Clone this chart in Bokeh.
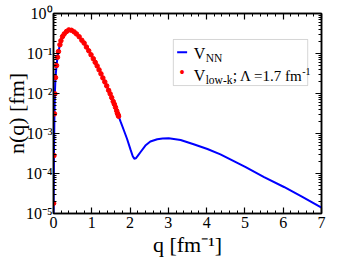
from bokeh.plotting import figure
from bokeh.models import (Range1d, LinearAxis, LogAxis, Label, BoxAnnotation, Arrow,
                          SingleIntervalTicker, LogTicker, CustomJSTickFormatter)
from bokeh.embed import file_html
from bokeh.resources import INLINE

# ---- data ----
q_vnn = [0.001, 0.003, 0.012, 0.025, 0.036, 0.052, 0.079, 0.105, 0.130, 0.168, 0.194,
         0.236, 0.280, 0.340, 0.400, 0.470, 0.540, 0.600, 0.670, 0.740, 0.800, 0.860,
         0.920, 0.980, 1.040, 1.090, 1.140, 1.190, 1.240, 1.290, 1.340, 1.390, 1.440,
         1.480, 1.520, 1.560, 1.590, 1.620, 1.650, 1.700, 1.750, 1.830, 1.920, 2.010,
         2.070, 2.110, 2.150, 2.200, 2.270, 2.400, 2.530, 2.710, 2.850, 3.010, 3.320,
         3.660, 4.020, 4.360, 5.020, 5.500, 6.020, 6.500, 7.000]
n_vnn = [2.0e-6, 1.8e-5, 2.8e-4, 3.1e-3, 9.8e-3, 2.5e-2, 5.0e-2, 8.1e-2, 1.12e-1, 1.66e-1,
         2.09e-1, 2.66e-1, 3.09e-1, 3.55e-1, 3.89e-1, 3.80e-1, 3.47e-1, 3.09e-1, 2.63e-1,
         2.14e-1, 1.82e-1, 1.45e-1, 1.17e-1, 9.3e-2, 7.4e-2, 6.0e-2, 4.9e-2, 3.9e-2,
         3.1e-2, 2.45e-2, 1.95e-2, 1.55e-2, 1.2e-2, 9.8e-3, 7.9e-3, 6.3e-3, 5.4e-3,
         4.5e-3, 3.7e-3, 2.7e-3, 2.0e-3, 1.26e-3, 7.4e-4, 4.0e-4, 2.7e-4, 2.35e-4,
         2.4e-4, 2.75e-4, 3.4e-4, 5.0e-4, 6.3e-4, 7.2e-4, 7.5e-4, 7.6e-4, 6.9e-4,
         5.4e-4, 4.1e-4, 3.0e-4, 1.45e-4, 8.1e-5, 4.6e-5, 2.6e-5, 1.4e-5]

q_lowk = [0.003, 0.012, 0.025, 0.036, 0.052, 0.079, 0.105, 0.130, 0.168, 0.194, 0.236,
          0.280, 0.340, 0.400, 0.470, 0.540, 0.600, 0.670, 0.740, 0.800, 0.860, 0.920,
          0.980, 1.040, 1.090, 1.140, 1.190, 1.240, 1.290, 1.340, 1.390, 1.440, 1.480,
          1.520, 1.560, 1.590, 1.620, 1.650, 1.670, 1.690, 1.700]
n_lowk = [1.8e-5, 2.8e-4, 3.1e-3, 9.8e-3, 2.5e-2, 5.0e-2, 8.1e-2, 1.12e-1, 1.66e-1,
          2.09e-1, 2.66e-1, 3.09e-1, 3.55e-1, 3.89e-1, 3.80e-1, 3.47e-1, 3.09e-1,
          2.63e-1, 2.14e-1, 1.82e-1, 1.45e-1, 1.17e-1, 9.3e-2, 7.4e-2, 6.0e-2, 4.9e-2,
          3.9e-2, 3.1e-2, 2.45e-2, 1.95e-2, 1.55e-2, 1.2e-2, 9.8e-3, 7.9e-3, 6.3e-3,
          5.4e-3, 4.5e-3, 3.7e-3, 3.2e-3, 2.9e-3, 2.7e-3]

y_tick_values = [1.0, 1e-1, 1e-2, 1e-3, 1e-4, 1e-5]
y_tick_labels = ["10\u2070", "10\u207b\u00b9", "10\u207b\u00b2", "10\u207b\u00b3",
                 "10\u207b\u2074", "10\u207b\u2075"]

SERIF = "Liberation Serif"

p = figure(width=340, height=262, x_range=Range1d(0, 7), y_range=Range1d(1e-5, 1),
           y_axis_type="log", output_backend="svg", toolbar_location=None,
           min_border_left=53, min_border_right=19, min_border_top=13, min_border_bottom=49)
p.grid.visible = False
p.outline_line_color = "black"
p.outline_line_width = 1.5
p.background_fill_color = "white"
p.border_fill_color = "white"

def style_axis(ax, labels=True):
    ax.axis_line_color = "black"
    ax.axis_line_width = 1.5
    ax.major_tick_in = 6
    ax.major_tick_out = 0
    ax.minor_tick_in = 3
    ax.minor_tick_out = 0
    ax.major_tick_line_width = 1.2
    ax.minor_tick_line_width = 1
    ax.major_tick_line_color = "black"
    ax.minor_tick_line_color = "black"
    ax.major_label_text_font = SERIF
    ax.axis_label_text_font = SERIF
    ax.axis_label_text_font_style = "normal"
    ax.axis_label_text_color = "black"
    if labels:
        ax.major_label_text_font_size = "16px"
        ax.major_label_text_color = "black"
        ax.major_label_standoff = 3
    else:
        ax.major_label_text_font_size = "2px"
        ax.major_label_text_alpha = 0
        ax.major_label_standoff = 0

p.xaxis.ticker = SingleIntervalTicker(interval=1, num_minor_ticks=5)
style_axis(p.xaxis[0])
p.xaxis.axis_label = "q [fm\u207b\u00b9]"
p.xaxis.axis_label_text_font_size = "22px"
p.xaxis.axis_label_standoff = 1

p.yaxis.ticker = LogTicker(num_minor_ticks=10)
style_axis(p.yaxis[0])
p.yaxis.major_label_standoff = 1
p.yaxis.formatter = CustomJSTickFormatter(
    args=dict(vals=y_tick_values, labs=y_tick_labels),
    code="""
    let best = 0, bd = Infinity;
    for (let i = 0; i < vals.length; i++) {
        const d = Math.abs(Math.log10(tick) - Math.log10(vals[i]));
        if (d < bd) { bd = d; best = i; }
    }
    return bd < 0.01 ? labs[best] : '';
""")
p.yaxis.axis_label = "n(q) [fm]"
p.yaxis.axis_label_text_font_size = "22px"
p.yaxis.axis_label_standoff = -6

top = LinearAxis(ticker=SingleIntervalTicker(interval=1, num_minor_ticks=5))
style_axis(top, labels=False)
p.add_layout(top, "above")
right = LogAxis(ticker=LogTicker(num_minor_ticks=10))
style_axis(right, labels=False)
p.add_layout(right, "right")

# curves
p.line(q_vnn, n_vnn, line_color="#0000ff", line_width=2)
p.scatter(q_lowk, n_lowk, marker="circle", size=4.5, fill_color="#ff0000",
          line_color="#ff0000")

def lab(x, y, text, size, dx=0, dy=0, align="left", baseline="alphabetic",
        color="black"):
    p.add_layout(Label(x=x, y=y, x_offset=dx, y_offset=dy, text=text, text_font=SERIF,
                       text_font_size=size, text_align=align, text_baseline=baseline,
                       text_color=color))

# legend
p.add_layout(BoxAnnotation(left=3.13, right=6.64, bottom=0.0158, top=0.224,
                           fill_color="white", fill_alpha=1, line_color="#777777",
                           line_width=1))
p.add_layout(Arrow(x_start=3.23, y_start=0.108, x_end=3.49, y_end=0.108,
                   end=None, line_color="#0000ff", line_width=2))
lab(3.36, 0.033, "\u2022", "16px", align="center", baseline="middle", color="#ff0000")
leg_x = 3.66
for y, sub in [(0.1, "NN"), (0.028, "low-k")]:
    lab(leg_x, y, "V", "16px")
    lab(leg_x, y, sub, "11.5px", dx=12, dy=-4)
lab(leg_x, 0.028, ";", "16px", dx=39)
lab(leg_x, 0.028, "\u039b =1.7 fm", "15px", dx=108.5, align="right")
lab(leg_x, 0.028, "-1", "10px", dx=108.5, dy=4)

open("out.html", "w").write(file_html(p, INLINE))
